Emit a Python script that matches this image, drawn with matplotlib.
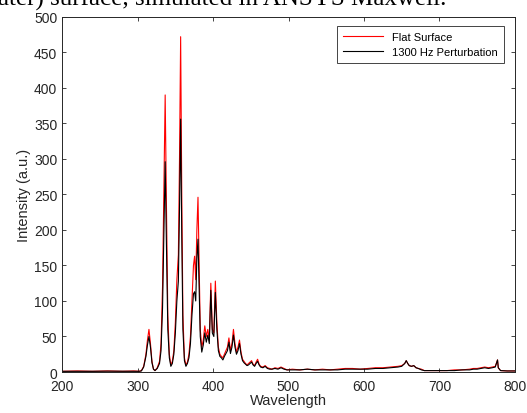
import numpy as np
import matplotlib
matplotlib.use("Agg")
import matplotlib.pyplot as plt

# spectrum (wavelength, flat surface, 1300 Hz perturbation)
wl = [200, 220, 240, 260, 280, 295, 302, 305, 308, 311, 313, 315, 317, 319, 321, 323,
      326, 329, 331, 333, 335, 336.5, 338, 340, 342, 344, 346, 348, 350, 352, 354,
      355.5, 357, 358.5, 360, 362, 364, 366, 368, 370, 372, 374, 375.5, 377, 378.5,
      380, 381.5, 383, 385, 387, 389, 391, 393, 395, 397, 399, 401, 403, 405, 407,
      409, 411, 413, 415, 417, 419, 421, 423, 425, 427, 429, 431, 433, 435, 437, 439,
      441, 443, 445, 447, 449, 451, 453, 455, 457, 459, 461, 463, 466, 469, 472, 475,
      478, 482, 486, 490, 494, 498, 505, 515, 525, 535, 545, 555, 565, 575, 585, 595,
      605, 615, 625, 635, 645, 650, 654, 656, 658, 660, 663, 666, 669, 672, 676, 680,
      690, 700, 710, 720, 730, 740, 745, 750, 755, 760, 765, 770, 774, 776, 777, 778,
      781, 790, 800]
flat = [1, 1.5, 1, 1.5, 1, 1.5, 1, 2, 8, 25, 45, 60, 40, 15, 4, 2,
        6, 15, 40, 120, 280, 390, 250, 80, 25, 10, 15, 30, 70, 130, 165,
        300, 472, 250, 80, 20, 10, 14, 25, 50, 100, 150, 163, 130, 200,
        246, 150, 60, 35, 45, 65, 50, 60, 45, 125, 60, 55, 128, 70, 35,
        25, 22, 20, 25, 30, 35, 48, 30, 40, 60, 40, 28, 35, 45, 28, 18,
        15, 12, 10, 12, 14, 16, 11, 9, 14, 18, 11, 8, 7, 9, 6, 5,
        4, 6, 5, 7, 5, 3, 4, 3, 4, 3, 4, 3, 4, 5, 5, 4,
        5, 6, 6, 7, 8, 9, 12, 16, 12, 9, 8, 9, 6, 5, 4, 2,
        2, 2, 2, 3, 3, 4, 5, 5, 6, 7, 6, 7, 8, 14, 17, 6,
        2, 1.5, 1.5]
pert = [1, 1, 1, 1.2, 1, 1, 1, 1.5, 7, 22, 38, 50, 35, 13, 4, 2,
        5, 12, 30, 90, 210, 296, 190, 60, 20, 8, 12, 25, 55, 100, 128,
        230, 356, 190, 60, 16, 8, 12, 20, 40, 80, 110, 113, 100, 160,
        187, 120, 50, 28, 38, 55, 42, 52, 40, 115, 55, 50, 112, 60, 30,
        22, 20, 17, 22, 26, 30, 42, 26, 35, 52, 35, 25, 30, 40, 25, 16,
        13, 11, 9, 10, 12, 14, 10, 8, 12, 15, 10, 7, 6, 8, 5, 4,
        4, 5, 4, 6, 4, 3, 3, 3, 4, 3, 3, 3, 3, 4, 4, 4,
        4, 5, 5, 6, 7, 8, 12, 16, 12, 9, 8, 9, 6, 5, 3, 2,
        2, 2, 2, 2, 3, 3, 4, 4, 5, 6, 5, 6, 7, 14, 17, 6,
        2, 1.5, 1.5]

xticks = list(range(200, 801, 100))
yticks = list(range(0, 501, 50))

plt.rcParams['font.family'] = ['Liberation Sans', 'DejaVu Sans']
axcol = (0.15, 0.15, 0.15)

fig = plt.figure(figsize=(5.27, 4.14), dpi=100)
ax = fig.add_axes([0.118, 0.099, 0.859, 0.858])

ax.plot(wl, flat, color='r', lw=0.8, label='Flat Surface')
ax.plot(wl, pert, color='k', lw=0.8, label='1300 Hz Perturbation')

ax.set_xlim(200, 800)
ax.set_ylim(0, 500)
ax.set_xticks(xticks)
ax.set_yticks(yticks)
ax.tick_params(direction='in', top=True, right=True, length=3, width=0.6,
               colors=axcol, labelsize=10, labelcolor=axcol)
ax.tick_params(axis='x', pad=5)
for s in ax.spines.values():
    s.set_color(axcol)
    s.set_linewidth(0.7)

ax.set_xlabel('Wavelength', fontsize=10.5, color=axcol, labelpad=0)
ax.set_ylabel('Intensity (a.u.)', fontsize=10.5, color=axcol, labelpad=2)

leg = ax.legend(loc='upper right', bbox_to_anchor=(0.975, 0.975), fontsize=8,
                fancybox=False, framealpha=1, edgecolor=axcol, handlelength=3.6,
                borderpad=0.55, labelspacing=0.45, borderaxespad=0)
leg.get_frame().set_linewidth(0.6)

# cropped caption line at the very top
fig.text(-0.004, 1 - 6 / 414, 'ater) surface, simulated in ANSYS Maxwell.',
         family=['Liberation Serif'], fontsize=18, va='baseline', ha='left')

fig.savefig('out.png', dpi=100)
